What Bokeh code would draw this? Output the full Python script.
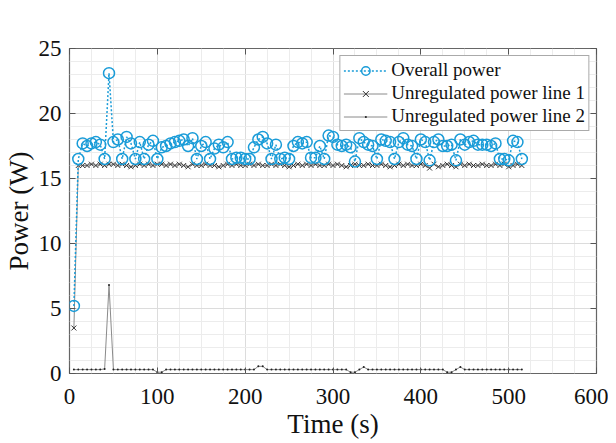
from bokeh.plotting import figure
from bokeh.models import (Range1d, LinearAxis, FixedTicker, Legend, LegendItem, CustomJSTickFormatter)
from bokeh.embed import file_html
from bokeh.resources import INLINE

time_s = [5, 10, 15, 20, 25, 30, 35, 40, 45, 50, 55, 60, 65, 70, 75, 80, 85, 90, 95, 100,
          105, 110, 115, 120, 125, 130, 135, 140, 145, 150, 155, 160, 165, 170, 175, 180, 185, 190, 195, 200,
          205, 210, 215, 220, 225, 230, 235, 240, 245, 250, 255, 260, 265, 270, 275, 280, 285, 290, 295, 300,
          305, 310, 315, 320, 325, 330, 335, 340, 345, 350, 355, 360, 365, 370, 375, 380, 385, 390, 395, 400,
          405, 410, 415, 420, 425, 430, 435, 440, 445, 450, 455, 460, 465, 470, 475, 480, 485, 490, 495, 500,
          505, 510, 515]

overall_power = [5.2, 16.5, 17.7, 17.5, 17.7, 17.8, 17.6, 16.5, 23.1, 17.8, 18.0, 16.5, 18.2, 17.7, 16.5, 17.8, 16.5, 17.6, 17.9, 16.5,
                 17.4, 17.5, 17.7, 17.8, 17.9, 18.0, 17.5, 18.1, 16.5, 17.5, 17.8, 16.5, 17.3, 17.6, 17.4, 17.8, 16.5, 16.6, 16.6, 16.5,
                 16.5, 17.4, 18.0, 18.2, 17.7, 16.5, 17.6, 16.5, 16.6, 16.5, 17.5, 17.8, 17.7, 17.8, 16.6, 16.6, 17.5, 16.5, 18.3, 18.2,
                 17.6, 17.5, 17.6, 17.4, 16.3, 18.1, 17.8, 17.6, 17.5, 16.5, 18.0, 17.9, 17.8, 16.5, 17.8, 18.1, 17.6, 17.5, 16.5, 18.0,
                 17.8, 16.4, 17.8, 18.0, 17.5, 17.5, 17.6, 16.4, 18.0, 17.6, 17.8, 17.9, 17.6, 17.6, 17.6, 17.5, 17.7, 16.5, 16.5, 16.4,
                 17.9, 17.8, 16.5]

line1_power = [3.5, 16.0, 16.0, 16.0, 16.1, 16.0, 16.1, 16.0, 16.1, 16.1, 16.0, 16.1, 16.0, 15.9, 16.0, 16.1, 16.0, 16.1, 16.0, 16.1,
               16.1, 16.0, 16.1, 16.0, 16.1, 16.0, 15.9, 16.1, 16.0, 16.0, 16.1, 16.0, 16.0, 15.9, 16.0, 16.1, 16.0, 16.1, 16.0, 16.0,
               16.1, 16.0, 16.1, 16.0, 16.0, 16.1, 16.0, 16.1, 16.0, 15.9, 16.0, 16.1, 16.0, 16.1, 16.0, 16.1, 16.0, 16.0, 16.1, 16.0,
               16.1, 16.0, 15.9, 16.0, 16.1, 16.0, 16.0, 16.1, 16.0, 16.0, 16.1, 16.0, 15.9, 16.0, 16.1, 16.0, 16.1, 16.0, 16.0, 16.1,
               16.0, 15.8, 16.1, 15.9, 16.0, 16.1, 16.0, 15.9, 16.1, 16.0, 16.1, 16.0, 16.0, 16.1, 16.0, 16.0, 16.1, 16.0, 16.1, 15.9,
               16.0, 16.1, 16.0]

line2_power = [0.3, 0.3, 0.3, 0.3, 0.3, 0.3, 0.3, 0.35, 6.8, 0.3, 0.3, 0.3, 0.3, 0.3, 0.3, 0.3, 0.3, 0.3, 0.3, 0.1,
               0.1, 0.3, 0.3, 0.3, 0.3, 0.3, 0.3, 0.3, 0.3, 0.3, 0.3, 0.3, 0.3, 0.3, 0.3, 0.3, 0.3, 0.3, 0.3, 0.3,
               0.3, 0.3, 0.55, 0.55, 0.3, 0.3, 0.3, 0.3, 0.3, 0.3, 0.3, 0.3, 0.3, 0.3, 0.3, 0.3, 0.3, 0.3, 0.3, 0.3,
               0.3, 0.3, 0.3, 0.1, 0.1, 0.3, 0.5, 0.3, 0.3, 0.3, 0.3, 0.3, 0.3, 0.3, 0.3, 0.3, 0.3, 0.3, 0.3, 0.3,
               0.3, 0.3, 0.3, 0.3, 0.3, 0.1, 0.1, 0.3, 0.5, 0.3, 0.3, 0.3, 0.3, 0.3, 0.3, 0.3, 0.3, 0.3, 0.3, 0.3,
               0.3, 0.3, 0.3]

x_ticks = [0, 100, 200, 300, 400, 500, 600]
y_ticks = [0, 5, 10, 15, 20, 25]

FONT = "Liberation Serif"
BLUE = "#1a9cd8"

p = figure(width=608, height=442, output_backend="svg", toolbar_location=None,
           x_range=Range1d(0, 600), y_range=Range1d(0, 25),
           min_border_left=69, min_border_right=12, min_border_top=48, min_border_bottom=69)
p.background_fill_color = "white"
p.border_fill_color = "white"
p.outline_line_color = "#666666"
p.outline_line_width = 1.2

bottom = p.below[0]
left = p.left[0]

x_minor = [v for v in range(0, 601, 25) if v % 100 != 0]
y_minor = [v for v in range(0, 26) if v % 5 != 0]

bottom.ticker = FixedTicker(ticks=x_ticks, minor_ticks=x_minor)
left.ticker = FixedTicker(ticks=y_ticks, minor_ticks=y_minor)

blank = CustomJSTickFormatter(code="return ''")
top = LinearAxis(ticker=FixedTicker(ticks=x_ticks, minor_ticks=[]), formatter=blank)
right = LinearAxis(ticker=FixedTicker(ticks=y_ticks, minor_ticks=[]), formatter=blank)
p.add_layout(top, "above")
p.add_layout(right, "right")

for ax in [bottom, left, top, right]:
    ax.axis_line_color = None
    ax.major_tick_in = 6
    ax.major_tick_out = 0
    ax.major_tick_line_color = "#555555"
    ax.minor_tick_in = 0
    ax.minor_tick_out = 0
    ax.major_label_text_font = FONT
    ax.major_label_text_font_size = "23px"
    ax.major_label_text_color = "#111111"
    ax.axis_label_text_font = FONT
    ax.axis_label_text_font_size = "27px"
    ax.axis_label_text_font_style = "normal"
    ax.axis_label_text_color = "#111111"

for ax in [top, right]:
    ax.major_label_standoff = 0

bottom.major_label_standoff = 15
left.major_label_standoff = 8
bottom.axis_label = "Time (s)"
left.axis_label = "Power (W)"
bottom.axis_label_standoff = 2
left.axis_label_standoff = 2

p.xgrid.ticker = bottom.ticker
p.ygrid.ticker = left.ticker
for g in [p.xgrid, p.ygrid]:
    g.grid_line_color = "#dcdcdc"
    g.minor_grid_line_color = "#ececec"
    g.grid_line_width = 1
    g.minor_grid_line_width = 1

# Line 2
l2_line = p.line(time_s, line2_power, line_color="#8a8a8a", line_width=1)
l2_pts = p.scatter(time_s, line2_power, marker="dot", size=8, line_color="#222222", fill_color="#222222")

# Line 1
l1_line = p.line(time_s, line1_power, line_color="#8a8a8a", line_width=1)
l1_pts = p.scatter(time_s, line1_power, marker="x", size=7, line_color="#333333", line_width=1)

# Overall
ov_line = p.line(time_s, overall_power, line_color=BLUE, line_width=1.5, line_dash="2 2")
ov_pts = p.scatter(time_s, overall_power, marker="circle", size=11, fill_color=None,
                   line_color=BLUE, line_width=1.5)

legend = Legend(items=[
    LegendItem(label="Overall power", renderers=[ov_line, ov_pts]),
    LegendItem(label="Unregulated power line 1", renderers=[l1_line, l1_pts]),
    LegendItem(label="Unregulated power line 2", renderers=[l2_line, l2_pts]),
], location="top_right")
legend.label_text_font = FONT
legend.label_text_font_size = "19px"
legend.label_text_color = "#111111"
legend.glyph_width = 44
legend.glyph_height = 21
legend.label_height = 21
legend.label_standoff = 4
legend.spacing = 1
legend.padding = 3
legend.margin = 7
legend.border_line_color = "#555555"
legend.border_line_width = 1.2
legend.background_fill_color = "white"
legend.background_fill_alpha = 1
p.add_layout(legend, "center")

open("out.html", "w").write(file_html(p, INLINE))
